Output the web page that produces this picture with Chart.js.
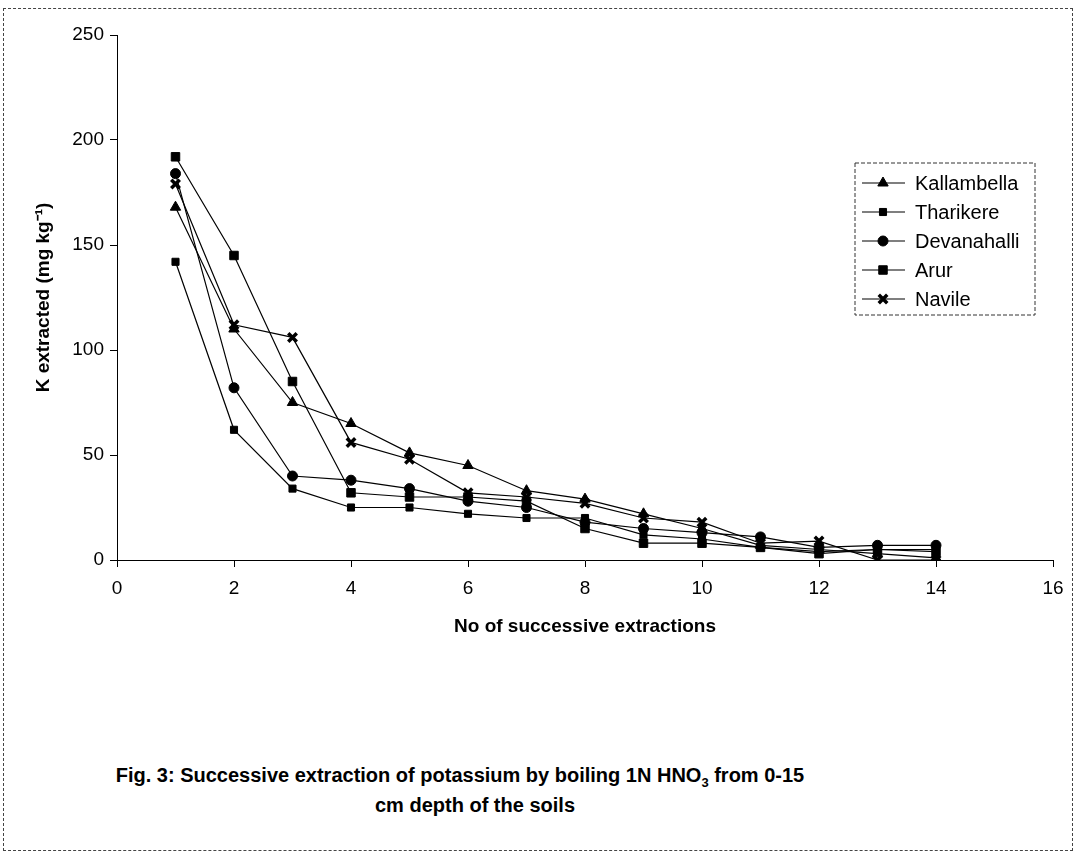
<!DOCTYPE html>
<html>
<head>
<meta charset="utf-8">
<script src="https://cdn.jsdelivr.net/npm/chart.js@4.4.1/dist/chart.umd.min.js"></script>
<style>
  body { margin: 0; background: #fff; }
  #frame { position: absolute; left: 3px; top: 8px; width: 1070px; height: 843px; border: 1px dashed #444; box-sizing: border-box; }
  #wrap { position: absolute; left: 0; top: 0; width: 1078px; height: 660px; }
  .cap { position: absolute; text-align: center; white-space: nowrap;
         font: bold 20px "Liberation Sans", Arial, sans-serif; line-height: 30px; color: #000; }
  .cap sub { font-size: 13px; line-height: 0; }
</style>
</head>
<body>
<div id="frame"></div>
<div id="wrap"><canvas id="chart"></canvas></div>
<div class="cap" style="left:115px; top:760px; width:690px;">Fig. 3: Successive extraction of potassium by boiling 1N HNO<sub>3</sub> from 0-15</div>
<div class="cap" style="left:325px; top:790px; width:300px;">cm depth of the soils</div>
<script>
// number of successive extraction
var extractions = [1, 2, 3, 4, 5, 6, 7, 8, 9, 10, 11, 12, 13, 14];

// K extracted (mg/kg) for each soil
var kallambella = [168, 110, 75, 65, 51, 45, 33, 29, 22, 15, 7, 5, 3, 1];
var tharikere   = [142, 62, 34, 25, 25, 22, 20, 20, 12, 10, 6, 4, 5, 5];
var devanahalli = [184, 82, 40, 38, 34, 28, 25, 18, 15, 13, 11, 6, 7, 7];
var arur        = [192, 145, 85, 32, 30, 30, 28, 15, 8, 8, 6, 3, 5, 4];
var navile      = [179, 112, 106, 56, 48, 32, 30, 27, 20, 18, 8, 9, 0, 0];

var xTicks = [0, 2, 4, 6, 8, 10, 12, 14, 16];
var yTicks = [0, 50, 100, 150, 200, 250];

var FONT = '"Liberation Sans", Arial, sans-serif';

function pts(vals) {
    return vals.map(function(v, i) { return { x: extractions[i], y: v }; });
}

function series(label, vals, style, radius, bw) {
    return {
        label: label,
        data: pts(vals),
        borderColor: "#000",
        backgroundColor: "#000",
        borderWidth: 1.2,
        pointStyle: style,
        pointRadius: radius,
        pointBorderWidth: bw,
        pointBackgroundColor: "#000",
        pointBorderColor: "#000",
        tension: 0
    };
}

// legend with line-marker-line samples, drawn inside the plot
var legendBox = {
    id: "legendBox",
    afterDraw: function(chart) {
        var ctx = chart.ctx;
        var area = chart.chartArea;
        var x0 = area.right - 198, y0 = area.top + 128, w = 180, h = 152;
        ctx.save();
        ctx.strokeStyle = "#333";
        ctx.lineWidth = 1;
        ctx.setLineDash([4, 2]);
        ctx.strokeRect(x0, y0, w, h);
        ctx.setLineDash([]);
        ctx.font = "20px " + FONT;
        ctx.textBaseline = "middle";
        chart.data.datasets.forEach(function(ds, i) {
            var y = y0 + 20 + i * 29;
            ctx.strokeStyle = "#000";
            ctx.lineWidth = 1.2;
            ctx.beginPath();
            ctx.moveTo(x0 + 7, y);
            ctx.lineTo(x0 + 50, y);
            ctx.stroke();
            ctx.fillStyle = "#000";
            ctx.lineWidth = ds.pointBorderWidth;
            Chart.helpers.drawPoint(ctx, {
                pointStyle: ds.pointStyle,
                radius: ds.pointRadius,
                borderWidth: ds.pointBorderWidth
            }, x0 + 28, y);
            ctx.fillStyle = "#000";
            ctx.fillText(ds.label, x0 + 60, y + 1);
        });
        ctx.restore();
    }
};

var ctx = document.getElementById("chart").getContext("2d");
var myChart = new Chart(ctx, {
    type: "line",
    data: {
        datasets: [
            series("Kallambella", kallambella, "triangle", 6, 1),
            series("Tharikere", tharikere, "rect", 5, 1),
            series("Devanahalli", devanahalli, "circle", 5, 1),
            series("Arur", arur, "rect", 6, 1),
            series("Navile", navile, "crossRot", 6, 3.5)
        ]
    },
    options: {
        responsive: true,
        maintainAspectRatio: false,
        animation: false,
        layout: { padding: { left: 0, right: 25, top: 35, bottom: 20 } },
        plugins: {
            legend: { display: false },
            tooltip: { enabled: false }
        },
        scales: {
            x: {
                type: "linear",
                min: 0,
                max: 16,
                afterBuildTicks: function(s) { s.ticks = xTicks.map(function(v) { return { value: v }; }); },
                afterFit: function(s) { s.height = 80; },
                ticks: { color: "#000", font: { family: FONT, size: 19 }, padding: 10, maxRotation: 0 },
                grid: { drawOnChartArea: false, color: "#000", tickLength: 7 },
                border: { color: "#000", width: 1 },
                title: {
                    display: true,
                    text: "No of successive extractions",
                    color: "#000",
                    font: { family: FONT, size: 19, weight: "bold" },
                    padding: { top: 0, bottom: 2 }
                }
            },
            y: {
                min: 0,
                max: 250,
                afterBuildTicks: function(s) { s.ticks = yTicks.map(function(v) { return { value: v }; }); },
                afterFit: function(s) { s.width = 117; },
                ticks: { color: "#000", font: { family: FONT, size: 19 }, padding: 6 },
                grid: { drawOnChartArea: false, color: "#000", tickLength: 7 },
                border: { color: "#000", width: 1 },
                title: {
                    display: true,
                    text: "K extracted (mg kg\u207B\u00B9)",
                    color: "#000",
                    font: { family: FONT, size: 19, weight: "bold" },
                    padding: { top: 32, bottom: 0 }
                }
            }
        }
    },
    plugins: [legendBox]
});
</script>
</body>
</html>
